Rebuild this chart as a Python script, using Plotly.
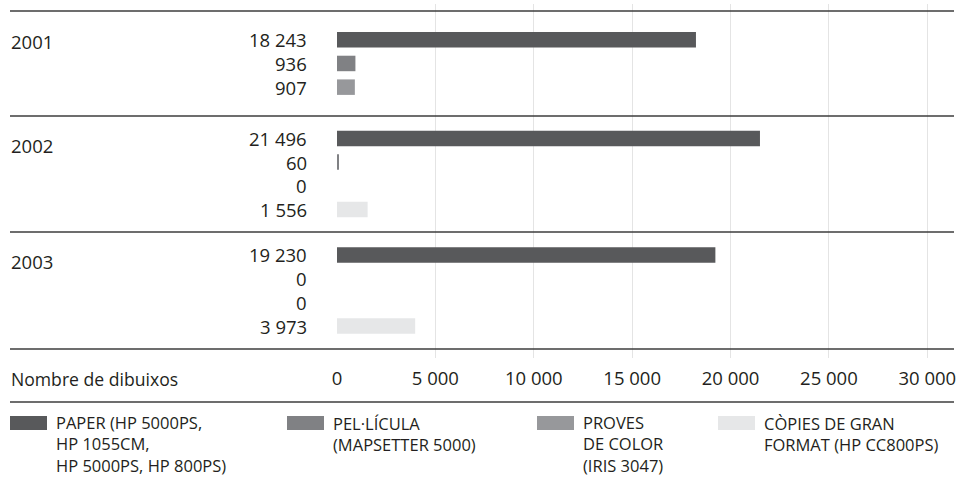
import plotly.graph_objects as go

# ---------------- data ----------------
years = ["2001", "2002", "2003"]
paper = [18243, 21496, 19230]
pelicula = [936, 60, 0]
proves = [907, 0, 0]
copies = [None, 1556, 3973]

series_values = [paper, pelicula, proves, copies]
series_legend = [
    ["PAPER (HP 5000PS,", "HP 1055CM,", "HP 5000PS, HP 800PS)"],
    ["PEL·LÍCULA", "(MAPSETTER 5000)"],
    ["PROVES", "DE COLOR", "(IRIS 3047)"],
    ["CÒPIES DE GRAN", "FORMAT (HP CC800PS)"],
]
series_colors = ["#58595b", "#808184", "#97989b", "#e6e7e8"]

x_ticks = [0, 5000, 10000, 15000, 20000, 25000, 30000]
x_tick_labels = ["0", "5 000", "10 000", "15 000", "20 000", "25 000", "30 000"]
x_title = "Nombre de dibuixos"

# ---------------- layout helpers ----------------
W, H = 959, 478
L, R, T, B = 337, 954, 4, 358          # plot area in pixels
FONT = "Open Sans"
TXT = "#231f20"
FS_NUM = 18.5
FS_TXT = 17.6
FS_LEG = 16.5

def px_x(px):
    return (px - L) / (R - L)

def px_y(py):
    return (B - py) / (B - T)

group_heights = [4.43, 4.9, 4.94]
unit_px = (349 - 11) / sum(group_heights)

fmt = lambda v: f"{v:,}".replace(",", " ")

row_y = {s: [] for s in range(len(series_values))}
row_x = {s: [] for s in range(len(series_values))}
labels = []
boundaries = [0.0]
start = 0.0
for g, year in enumerate(years):
    present = [s for s in range(len(series_values)) if series_values[s][g] is not None]
    h = group_heights[g]
    pad = (h - (len(present) - 1)) / 2
    for k, s in enumerate(present):
        y = start + pad + k
        row_y[s].append(y)
        row_x[s].append(series_values[s][g])
        labels.append((y, fmt(series_values[s][g])))
    start += h
    boundaries.append(start)

total = boundaries[-1]
y_range = [total + (B - 349) / unit_px, -(11 - T) / unit_px]

fig = go.Figure()
for s in range(len(series_values)):
    fig.add_trace(go.Bar(
        x=row_x[s], y=row_y[s], orientation="h",
        marker=dict(color=series_colors[s], line=dict(width=0)),
        width=15.5 / unit_px, showlegend=False, hoverinfo="x",
    ))

annotations = []
for y, t in labels:
    annotations.append(dict(x=px_x(309), xref="paper", y=y, yref="y", text=t,
                            xanchor="right", yanchor="middle", showarrow=False,
                            font=dict(family=FONT, size=FS_NUM, color=TXT)))
for g, year in enumerate(years):
    annotations.append(dict(x=px_x(9), xref="paper", y=boundaries[g] + 30 / unit_px, yref="y",
                            text=year, xanchor="left", yanchor="middle", showarrow=False,
                            font=dict(family=FONT, size=FS_NUM, color=TXT)))
annotations.append(dict(x=px_x(9), xref="paper", y=px_y(379), yref="paper", text=x_title,
                        xanchor="left", yanchor="middle", showarrow=False,
                        font=dict(family=FONT, size=FS_TXT, color=TXT)))

shapes = []
for b in boundaries:
    shapes.append(dict(type="line", xref="paper", yref="y", x0=px_x(10), x1=1, y0=b, y1=b,
                       line=dict(color="#3d3d3d", width=1.5)))
shapes.append(dict(type="line", xref="paper", yref="paper", x0=px_x(10), x1=1,
                   y0=px_y(402), y1=px_y(402), line=dict(color="#3d3d3d", width=1.5)))

# legend (drawn by hand to follow the reference's layout)
sw_x = [10, 287, 537, 718]
line_h = FS_LEG * 1.3
for s in range(len(series_values)):
    shapes.append(dict(type="rect", xref="paper", yref="paper",
                       x0=px_x(sw_x[s]), x1=px_x(sw_x[s] + 37),
                       y0=px_y(430), y1=px_y(416), line=dict(width=0),
                       fillcolor=series_colors[s]))
    n = len(series_legend[s])
    annotations.append(dict(x=px_x(sw_x[s] + 44), xref="paper",
                            y=px_y(423 + (n - 1) * line_h / 2), yref="paper",
                            text="<br>".join(series_legend[s]), align="left",
                            xanchor="left", yanchor="middle", showarrow=False,
                            font=dict(family=FONT, size=FS_LEG, color=TXT)))

fig.update_layout(
    width=W, height=H,
    margin=dict(l=L, r=W - R, t=T, b=H - B, pad=0),
    paper_bgcolor="white", plot_bgcolor="white",
    barmode="overlay",
    xaxis=dict(range=[0, 30000 * (R - L) / 590.3], tickvals=x_ticks, ticktext=x_tick_labels,
               showgrid=True, gridcolor="#e4e4e4", gridwidth=1, zeroline=False,
               showline=False, ticks="", ticklabelstandoff=7,
               tickfont=dict(family=FONT, size=FS_NUM, color=TXT), fixedrange=True),
    yaxis=dict(range=y_range, showgrid=False, zeroline=False, showticklabels=False,
               showline=False, fixedrange=True),
    shapes=shapes, annotations=annotations,
    font=dict(family=FONT, size=FS_TXT, color=TXT),
)

fig.write_html(
    "out.html",
    config={"displayModeBar": False},
    post_script="document.body.style.margin='0';document.body.style.overflow='hidden';",
)
